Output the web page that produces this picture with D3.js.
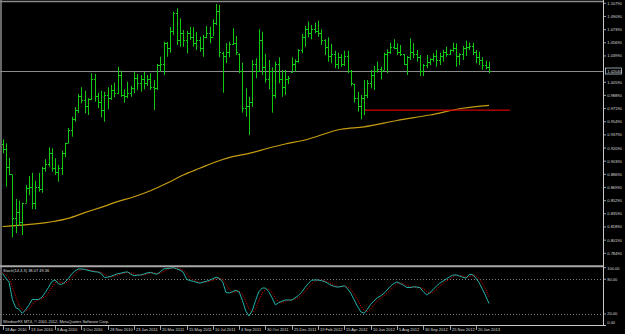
<!DOCTYPE html>
<html>
<head>
<meta charset="utf-8">
<script src="https://cdn.jsdelivr.net/npm/d3@7"></script>
<style>
  html, body { margin: 0; padding: 0; background: #000; }
  svg { display: block; }
  text { font-family: "Liberation Sans", Arial, sans-serif; font-size: 4px; fill: #dcdcdc; }
</style>
</head>
<body>
<div id="chart"></div>
<script>
// AUDUSD weekly, 18 Apr 2010 .. 17 Feb 2013
const firstWeek = "2010-04-18";
const lastWeek = "2013-02-17";

const open = [0.9260,0.9200,0.8960,0.8880,0.8300,0.8380,0.8250,0.8500,0.8690,0.8700,
0.8500,0.8700,0.8680,0.8950,0.9000,0.9150,0.8950,0.8900,0.8950,0.9150,
0.9270,0.9440,0.9580,0.9700,0.9880,0.9830,0.9750,0.9840,1.0100,0.9880,
0.9800,0.9700,0.9900,0.9860,0.9960,0.9920,1.0150,0.9900,0.9880,0.9920,
0.9980,1.0120,1.0050,1.0100,1.0050,1.0100,1.0000,0.9980,1.0280,1.0300,
1.0560,1.0500,1.0720,1.0950,1.0600,1.0700,1.0600,1.0700,1.0650,1.0560,
1.0600,1.0500,1.0650,1.0700,1.0640,1.0820,1.0980,1.0440,1.0400,1.0450,
1.0550,1.0570,1.0420,1.0200,0.9730,0.9750,0.9800,1.0300,1.0200,1.0600,
1.0250,1.0100,1.0200,0.9900,1.0300,1.0100,1.0000,1.0100,1.0190,1.0300,
1.0330,1.0470,1.0650,1.0750,1.0700,1.0750,1.0720,1.0700,1.0600,1.0520,
1.0400,1.0420,1.0300,1.0380,1.0300,1.0400,1.0200,1.0030,0.9850,0.9750,
0.9850,0.9900,1.0050,1.0150,1.0200,1.0230,1.0220,1.0420,1.0450,1.0520,
1.0500,1.0450,1.0420,1.0300,1.0380,1.0450,1.0420,1.0380,1.0200,1.0280,
1.0320,1.0360,1.0400,1.0350,1.0400,1.0450,1.0420,1.0470,1.0500,1.0400,
1.0420,1.0500,1.0520,1.0530,1.0450,1.0380,1.0350,1.0280,1.0260];

const high = [0.9322,0.9270,0.9080,0.8861,0.8551,0.8529,0.8503,0.8732,0.8848,0.8890,
0.8787,0.8887,0.8968,0.9064,0.9219,0.9206,0.9077,0.8990,0.9175,0.9278,
0.9468,0.9614,0.9736,0.9907,0.9994,0.9950,0.9852,1.0175,1.0166,0.9924,
0.9950,0.9937,0.9994,1.0024,1.0054,1.0260,1.0208,0.9968,1.0066,1.0011,
1.0195,1.0166,1.0153,1.0195,1.0153,1.0175,1.0088,1.0295,1.0389,1.0583,
1.0579,1.0773,1.0971,1.1015,1.0885,1.0734,1.0721,1.0773,1.0769,1.0708,
1.0647,1.0670,1.0786,1.0777,1.0872,1.1070,1.1057,1.0454,1.0562,1.0583,
1.0756,1.0657,1.0433,1.0312,0.9981,0.9872,1.0347,1.0369,1.0743,1.0712,
1.0424,1.0347,1.0252,1.0325,1.0381,1.0218,1.0218,1.0140,1.0381,1.0356,
1.0485,1.0683,1.0786,1.0842,1.0799,1.0829,1.0855,1.0743,1.0614,1.0640,
1.0554,1.0467,1.0441,1.0424,1.0467,1.0467,1.0218,1.0037,0.9937,0.9895,
1.0088,1.0088,1.0218,1.0269,1.0325,1.0260,1.0441,1.0485,1.0570,1.0614,
1.0562,1.0540,1.0424,1.0398,1.0627,1.0562,1.0476,1.0411,1.0295,1.0411,
1.0369,1.0433,1.0476,1.0441,1.0476,1.0518,1.0485,1.0570,1.0562,1.0433,
1.0527,1.0596,1.0570,1.0570,1.0476,1.0454,1.0381,1.0338,1.0325];

const low = [0.9141,0.8710,0.8861,0.8056,0.8111,0.8202,0.8085,0.8503,0.8602,0.8418,
0.8418,0.8645,0.8632,0.8903,0.8968,0.8903,0.8861,0.8774,0.8861,0.9089,
0.9274,0.9356,0.9550,0.9662,0.9787,0.9658,0.9636,0.9830,0.9808,0.9723,
0.9606,0.9550,0.9710,0.9830,0.9865,0.9907,0.9872,0.9795,0.9852,0.9872,
0.9916,0.9959,0.9937,0.9968,1.0011,0.9959,0.9700,0.9959,1.0195,1.0153,
1.0389,1.0441,1.0670,1.0540,1.0518,1.0518,1.0433,1.0605,1.0518,1.0476,
1.0454,1.0389,1.0627,1.0562,1.0657,1.0799,1.0381,0.9924,1.0304,1.0381,
1.0540,1.0411,1.0175,0.9666,0.9614,0.9378,0.9743,1.0110,1.0195,1.0153,
1.0054,0.9968,0.9666,0.9852,1.0046,0.9872,0.9895,1.0037,1.0183,1.0195,
1.0312,1.0433,1.0518,1.0640,1.0614,1.0692,1.0647,1.0540,1.0411,1.0325,
1.0304,1.0240,1.0231,1.0256,1.0269,1.0175,1.0011,0.9795,0.9679,0.9581,
0.9636,0.9852,0.9981,0.9959,1.0183,1.0097,1.0218,1.0175,1.0424,1.0485,
1.0411,1.0398,1.0282,1.0153,1.0347,1.0369,1.0325,1.0140,1.0140,1.0240,
1.0282,1.0325,1.0260,1.0282,1.0325,1.0389,1.0411,1.0454,1.0260,1.0282,
1.0347,1.0398,1.0476,1.0411,1.0304,1.0282,1.0218,1.0227,1.0175];

const close = [0.9200,0.8960,0.8880,0.8300,0.8380,0.8250,0.8500,0.8690,0.8700,0.8500,
0.8700,0.8680,0.8950,0.9000,0.9150,0.8950,0.8900,0.8950,0.9150,0.9270,
0.9440,0.9580,0.9700,0.9880,0.9830,0.9750,0.9840,1.0100,0.9880,0.9800,
0.9700,0.9900,0.9860,0.9960,0.9920,1.0150,0.9900,0.9880,0.9920,0.9980,
1.0120,1.0050,1.0100,1.0050,1.0100,1.0000,0.9980,1.0280,1.0300,1.0560,
1.0500,1.0720,1.0950,1.0600,1.0700,1.0600,1.0700,1.0650,1.0560,1.0600,
1.0500,1.0650,1.0700,1.0640,1.0820,1.0980,1.0450,1.0400,1.0450,1.0550,
1.0570,1.0450,1.0200,0.9730,0.9750,0.9800,1.0300,1.0200,1.0600,1.0250,
1.0100,1.0200,0.9900,1.0300,1.0100,1.0000,1.0100,1.0120,1.0300,1.0330,
1.0470,1.0650,1.0750,1.0700,1.0750,1.0720,1.0700,1.0600,1.0520,1.0400,
1.0420,1.0300,1.0380,1.0300,1.0400,1.0200,1.0050,0.9850,0.9750,0.9850,
0.9900,1.0050,1.0150,1.0200,1.0230,1.0200,1.0420,1.0450,1.0520,1.0500,
1.0450,1.0420,1.0300,1.0380,1.0450,1.0420,1.0380,1.0200,1.0280,1.0320,
1.0360,1.0400,1.0350,1.0400,1.0450,1.0420,1.0470,1.0500,1.0400,1.0420,
1.0500,1.0520,1.0530,1.0450,1.0380,1.0350,1.0280,1.0260,1.0204];

// moving average, read at a few bars
const maBars = [0,6,10,15,20,25,30,35,40,45,50,55,60,65,70,75,81,86,92,103,110,120,130,140,148];
const ma200 = [0.8195,0.8212,0.8228,0.8257,0.8301,0.8374,0.8443,0.8516,0.8580,0.8658,0.8753,0.8861,
0.8947,0.9032,0.9097,0.9141,0.9209,0.9261,0.9313,0.9452,0.9483,0.9565,0.9636,0.9723,0.9761];

// Stochastic %K and %D
const stochK = [90,82,75,45,31,28,21,27,35,45,
45,45,49,57,66,76,79,72,71,75,
81,89,94,97.8,97.8,97,95.5,94,93,92.6,
90,83,83.7,85,87.5,89.5,90.5,92,92.8,89,
86,87,87.4,89,91,92,90,88.6,93,97.8,
98.5,99.3,100,98,96,92,80,77.7,76.5,74.8,
73.2,75,76.5,78.4,81,83.7,81.5,75,57,56.2,
58.7,61,58,43.3,25,16.5,26,43.5,58.8,64.8,
64.8,58.4,48,35.7,39.5,42,44.1,44.1,44.1,47.9,
51.9,57.6,65.5,72.5,78.2,78.7,78.7,77.4,76,72.9,
69.5,67.5,66.3,67.5,68.6,63.5,55.4,44.1,33.1,23.7,
21.1,27.9,36.7,42.4,47.7,51.2,55.2,61.4,67.8,72.4,
75.5,72.6,69.6,65.7,65.6,67,66.5,65.5,58.7,52.8,
56.7,62,68.2,73.2,76.8,80.5,84.3,87.1,87.7,85.6,
83.5,81.8,88.2,88.1,82,74,63,51,38.07];

const stochD = [92,88,82,67,50,35,27,25,28,36,
42,45,46,50,57,66,74,76,74,73,
76,82,88,94,96.5,97.5,96.8,95.5,94.2,93.2,
91.9,88.5,85.6,83.9,85.4,87.3,89.2,90.7,91.8,91.3,
89.3,87.3,86.8,87.8,89.1,90.7,91,90.2,90.5,93.1,
96.4,98.5,99.3,99.1,98,95.3,89.3,83.2,78.1,76.3,
74.8,74.3,74.9,76.6,78.6,81,82.1,80.1,71.2,62.7,
57.3,58.6,59.2,54.4,42.1,28.3,22.5,28.7,42.8,55.7,
62.8,62.7,57.1,47.4,41.1,39.1,41.9,43.4,44.1,45.4,
48,52.5,58.3,65.2,72.1,76.5,78.5,78.3,77.4,75.4,
72.8,70,67.8,67.1,67.5,66.5,62.5,54.3,44.2,33.6,
26,24.2,28.6,35.7,42.3,47.1,51.4,55.9,61.5,67.2,
71.9,73.5,72.6,69.3,67,66.1,66.4,66.3,63.6,59,
56.1,57.2,62.3,67.8,72.7,76.8,80.5,84,86.4,86.8,
85.6,83.6,84.5,86,86.1,81.4,73,62.7,49.36];

const priceTicks = [1.10790,1.09090,1.07390,1.05690,1.03990,1.02290,1.00590,0.98890,0.97190,0.95490,
0.93790,0.92090,0.90390,0.88690,0.86990,0.85290,0.83590,0.81890,0.80190,0.78490];
const stochLevels = [80, 20];
const stochTicks = [100, 80, 20, 0];
const dateTicks = ["2010-04-18","2010-06-13","2010-08-08","2010-10-03","2010-11-28","2011-01-23",
"2011-03-20","2011-05-15","2011-07-10","2011-09-04","2011-10-30","2011-12-25","2012-02-19",
"2012-04-15","2012-06-10","2012-08-05","2012-09-30","2012-11-25","2013-01-20"];

const supportLevel = 0.9700;
const supportFrom = "2012-05-27";
const supportTo = "2013-04-03";

const stochTitle = "Stoch(14,3,3) 38.07 49.36";
const copyright = "WindsorFX MT4, \u00a9 2001-2012, MetaQuotes Software Corp.";

// ---------------------------------------------------------------
const W = 625, H = 334;
const axisX = 603.5;
const parse = d3.utcParse("%Y-%m-%d");
const fmtDate = d => d.getUTCDate() + " " + d3.utcFormat("%b %Y")(d);

const weeks = d3.utcWeek.range(parse(firstWeek), d3.utcDay.offset(parse(lastWeek), 1));
const bars = weeks.map((d, i) => ({date: d, o: open[i], h: high[i], l: low[i], c: close[i], k: stochK[i], dd: stochD[i]}));

const x = d3.scaleUtc().domain([parse(firstWeek), parse(lastWeek)]).range([2.5, 489]);
const y = d3.scaleLinear().domain([0.78490, 1.10790]).range([253.3, 3.3]);
const ys = d3.scaleLinear().domain([0, 100]).range([325.5, 267.7]);

const svg = d3.select("#chart").append("svg")
    .attr("width", W).attr("height", H);

svg.append("rect").attr("width", W).attr("height", H).attr("fill", "#000");

const px = v => Math.round(v) + 0.5;

// bid line
const last = bars[bars.length - 1];
const bidY = y(last.c);
svg.append("line")
    .attr("x1", 0).attr("x2", axisX)
    .attr("y1", px(bidY)).attr("y2", px(bidY))
    .attr("stroke", "#8c8c8c").attr("stroke-width", 1);

// moving average
const maLine = d3.line()
    .x(d => x(weeks[d[0]]))
    .y(d => y(d[1]))
    .curve(d3.curveMonotoneX);
svg.append("path")
    .datum(maBars.map((b, i) => [b, ma200[i]]))
    .attr("d", maLine)
    .attr("fill", "none")
    .attr("stroke", "#c69c12")
    .attr("stroke-width", 1.2);

// support line
svg.append("line")
    .attr("x1", x(parse(supportFrom))).attr("x2", x(parse(supportTo)))
    .attr("y1", y(supportLevel)).attr("y2", y(supportLevel))
    .attr("stroke", "#d00000").attr("stroke-width", 1.2);

// OHLC bars
const g = svg.append("g").attr("stroke", "#12c812").attr("stroke-width", 1);
bars.forEach(b => {
    const bx = px(x(b.date));
    g.append("line").attr("x1", bx).attr("x2", bx).attr("y1", y(b.h)).attr("y2", y(b.l));
    g.append("line").attr("x1", bx - 1.5).attr("x2", bx).attr("y1", px(y(b.o))).attr("y2", px(y(b.o)));
    g.append("line").attr("x1", bx).attr("x2", bx + 1.5).attr("y1", px(y(b.c))).attr("y2", px(y(b.c)));
});

// frame
svg.append("line").attr("x1", 0).attr("x2", axisX).attr("y1", 1.5).attr("y2", 1.5)
    .attr("stroke", "#8a8a8a").attr("stroke-width", 1.5);
svg.append("line").attr("x1", 1).attr("x2", 1).attr("y1", 0).attr("y2", 325.5)
    .attr("stroke", "#8a8a8a").attr("stroke-width", 1.5);
svg.append("line").attr("x1", 0).attr("x2", axisX).attr("y1", 266.2).attr("y2", 266.2)
    .attr("stroke", "#a8a8a8").attr("stroke-width", 2);
svg.append("line").attr("x1", 0).attr("x2", axisX + 2).attr("y1", 325.5).attr("y2", 325.5)
    .attr("stroke", "#c8c8c8").attr("stroke-width", 1);
svg.append("line").attr("x1", axisX).attr("x2", axisX).attr("y1", 0).attr("y2", 325.5)
    .attr("stroke", "#c8c8c8").attr("stroke-width", 1);

// price axis (the tick hidden behind the bid label is left out, as in the terminal)
const pAxis = svg.append("g");
priceTicks.filter(t => Math.abs(y(t) - bidY) > 5).forEach(t => {
    const ty = y(t);
    pAxis.append("line").attr("x1", axisX).attr("x2", axisX + 2.5).attr("y1", ty).attr("y2", ty)
        .attr("stroke", "#c8c8c8").attr("stroke-width", 0.8);
    pAxis.append("text").attr("x", axisX + 3.8).attr("y", ty + 1.5).text(t.toFixed(5));
});

// bid label
svg.append("rect")
    .attr("x", axisX + 2).attr("y", bidY - 3).attr("width", 16).attr("height", 6)
    .attr("fill", "#000").attr("stroke", "#b8c4d0").attr("stroke-width", 0.8);
svg.append("text").attr("x", axisX + 3.8).attr("y", bidY + 1.5).attr("fill", "#fff")
    .text(last.c.toFixed(5));

// stochastic window
stochLevels.forEach(v => {
    svg.append("line").attr("x1", 0).attr("x2", axisX).attr("y1", px(ys(v))).attr("y2", px(ys(v)))
        .attr("stroke", "#9a9a9a").attr("stroke-width", 0.8).attr("stroke-dasharray", "1,2");
});
stochTicks.forEach(v => {
    let ty = ys(v) + 1.5;
    if (v === 100) ty = ys(v) + 2.6;
    if (v === 0) ty = ys(v) - 1.4;
    svg.append("line").attr("x1", axisX).attr("x2", axisX + 2.5).attr("y1", ys(v)).attr("y2", ys(v))
        .attr("stroke", "#c8c8c8").attr("stroke-width", 0.8);
    svg.append("text").attr("x", axisX + 3.8).attr("y", ty).text(v.toFixed(2));
});

svg.append("path")
    .datum(bars)
    .attr("d", d3.line().x(d => x(d.date)).y(d => ys(d.dd)))
    .attr("fill", "none").attr("stroke", "#d00000").attr("stroke-width", 1)
    .attr("stroke-dasharray", "1.2,1.2");
svg.append("path")
    .datum(bars)
    .attr("d", d3.line().x(d => x(d.date)).y(d => ys(d.k)))
    .attr("fill", "none").attr("stroke", "#20b2aa").attr("stroke-width", 1);

svg.append("text").attr("x", 3).attr("y", 272).text(stochTitle);
svg.append("text").attr("x", 3).attr("y", 323).text(copyright);

// date axis
dateTicks.forEach(s => {
    const d = parse(s);
    const tx = px(x(d));
    svg.append("line").attr("x1", tx).attr("x2", tx).attr("y1", 325.5).attr("y2", 330)
        .attr("stroke", "#c8c8c8").attr("stroke-width", 0.8);
    svg.append("text").attr("x", tx + 1.5).attr("y", 331.2).text(fmtDate(d));
});
</script>
</body>
</html>
